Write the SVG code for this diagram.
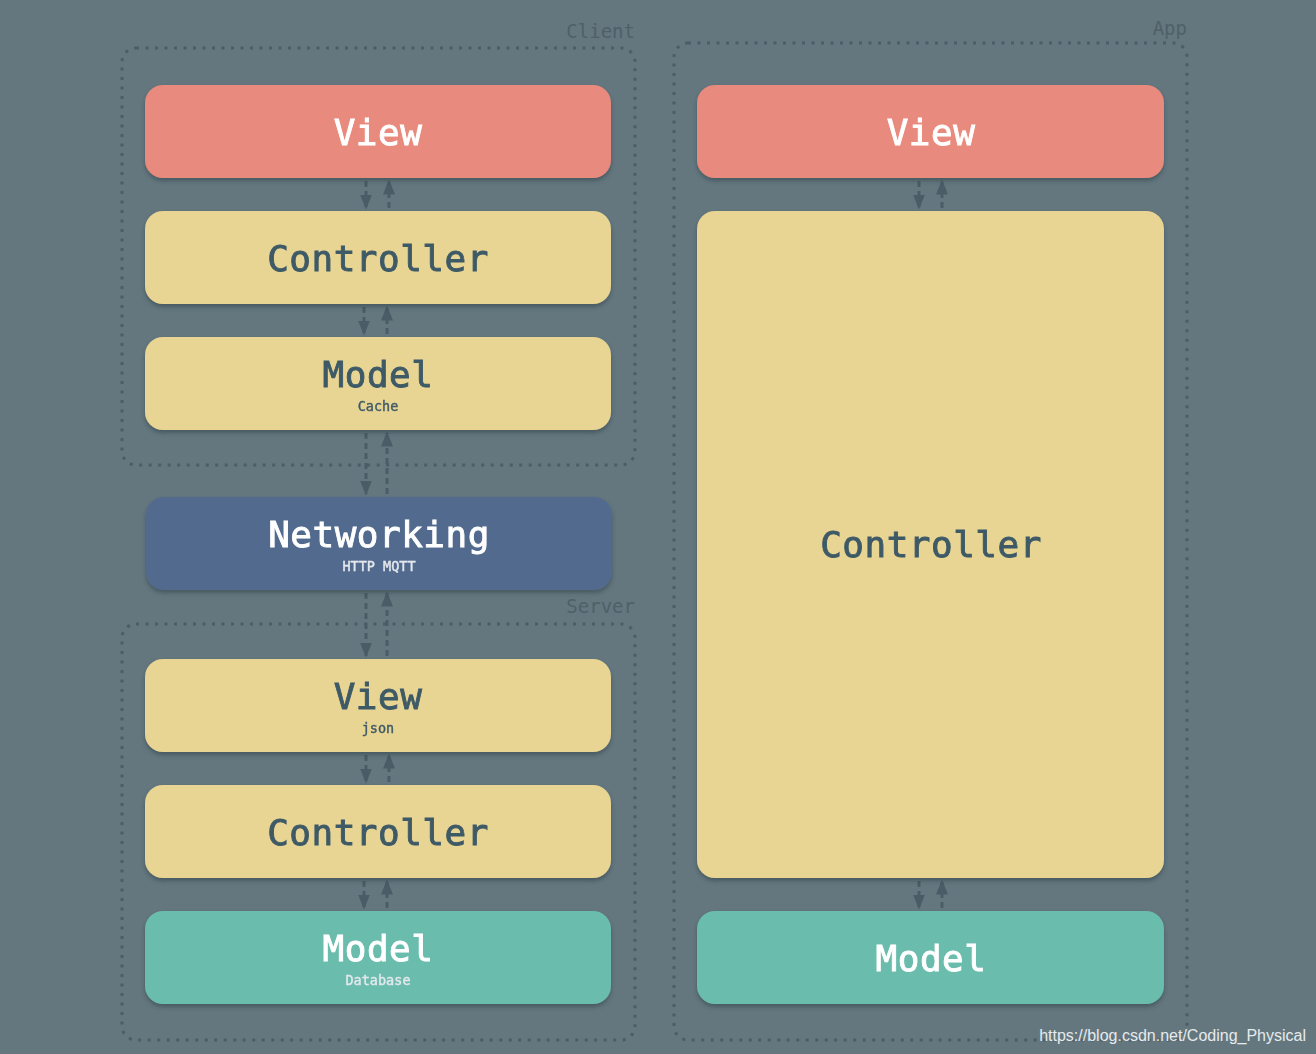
<svg xmlns="http://www.w3.org/2000/svg" width="1316" height="1054" viewBox="0 0 1316 1054">
<defs>
<style>
.grp{fill:none;stroke:#4b5d66;stroke-width:3;stroke-dasharray:3 6.5;}
.glabel{font-family:"DejaVu Sans Mono",monospace;font-size:19px;fill:#4f6068;text-anchor:end;}
.node{filter:url(#sh);}
.red{fill:#e88a7d;}
.yel{fill:#e9d593;}
.blu{fill:#536b8f;}
.grn{fill:#6bbdad;}
.t{font-family:"DejaVu Sans Mono",monospace;font-size:36px;text-anchor:middle;letter-spacing:0.5px;stroke-width:0.9;}
.s{font-family:"DejaVu Sans Mono",monospace;font-size:13.5px;text-anchor:middle;stroke-width:0.4;}
.dk{fill:#3e5a66;stroke:#3e5a66;}
.wh{fill:#ffffff;stroke:#ffffff;}
.lt{fill:#e4e8ee;stroke:#e4e8ee;}
.ln{stroke:#4a5c66;stroke-width:3;stroke-dasharray:6 4;fill:none;}
</style>
<filter id="sh" x="-5%" y="-10%" width="110%" height="130%">
<feDropShadow dx="0" dy="3" stdDeviation="2" flood-color="#2c3a40" flood-opacity="0.5"/>
</filter>
<marker id="ah" viewBox="0 0 10 10" refX="9" refY="5" markerWidth="5" markerHeight="5" markerUnits="strokeWidth" orient="auto">
<path d="M0,1 L10,5 L0,9 z" fill="#4a5c66"/>
</marker>
</defs>
<rect width="1316" height="1054" fill="#64777f"/>

<g id="groups">
<rect class="grp" x="122" y="48" width="513" height="417" rx="14"/>
<text class="glabel" x="635" y="38">Client</text>
<rect class="grp" x="122" y="624" width="513" height="416" rx="14"/>
<text class="glabel" x="635" y="613">Server</text>
<rect class="grp" x="674" y="43" width="513" height="997" rx="14"/>
<text class="glabel" x="1187" y="35">App</text>
</g>

<g id="connectors">
<line class="ln" x1="366" y1="181" x2="366" y2="208" marker-end="url(#ah)"/>
<line class="ln" x1="389" y1="208" x2="389" y2="181" marker-end="url(#ah)"/>
<line class="ln" x1="364" y1="307" x2="364" y2="334" marker-end="url(#ah)"/>
<line class="ln" x1="387" y1="334" x2="387" y2="307" marker-end="url(#ah)"/>
<line class="ln" x1="366" y1="433" x2="366" y2="494" marker-end="url(#ah)"/>
<line class="ln" x1="387" y1="494" x2="387" y2="433" marker-end="url(#ah)"/>
<line class="ln" x1="366" y1="593" x2="366" y2="656" marker-end="url(#ah)"/>
<line class="ln" x1="387" y1="656" x2="387" y2="593" marker-end="url(#ah)"/>
<line class="ln" x1="366" y1="755" x2="366" y2="782" marker-end="url(#ah)"/>
<line class="ln" x1="389" y1="782" x2="389" y2="755" marker-end="url(#ah)"/>
<line class="ln" x1="364" y1="881" x2="364" y2="908" marker-end="url(#ah)"/>
<line class="ln" x1="387" y1="908" x2="387" y2="881" marker-end="url(#ah)"/>
<line class="ln" x1="919" y1="181" x2="919" y2="208" marker-end="url(#ah)"/>
<line class="ln" x1="942" y1="208" x2="942" y2="181" marker-end="url(#ah)"/>
<line class="ln" x1="919" y1="881" x2="919" y2="908" marker-end="url(#ah)"/>
<line class="ln" x1="942" y1="908" x2="942" y2="881" marker-end="url(#ah)"/>
</g>

<g id="client-view" class="node">
<rect class="red" x="145" y="85" width="466" height="93" rx="18"/>
<text class="t wh" x="378" y="145">View</text>
</g>
<g id="client-controller" class="node">
<rect class="yel" x="145" y="211" width="466" height="93" rx="18"/>
<text class="t dk" x="378" y="271">Controller</text>
</g>
<g id="client-model" class="node">
<rect class="yel" x="145" y="337" width="466" height="93" rx="18"/>
<text class="t dk" x="378" y="387">Model</text>
<text class="s dk" x="378" y="411">Cache</text>
</g>
<g id="networking" class="node">
<rect class="blu" x="146" y="497" width="466" height="93" rx="18"/>
<text class="t wh" x="379" y="547">Networking</text>
<text class="s lt" x="379" y="571">HTTP MQTT</text>
</g>
<g id="server-view" class="node">
<rect class="yel" x="145" y="659" width="466" height="93" rx="18"/>
<text class="t dk" x="378" y="709">View</text>
<text class="s dk" x="378" y="733">json</text>
</g>
<g id="server-controller" class="node">
<rect class="yel" x="145" y="785" width="466" height="93" rx="18"/>
<text class="t dk" x="378" y="845">Controller</text>
</g>
<g id="server-model" class="node">
<rect class="grn" x="145" y="911" width="466" height="93" rx="18"/>
<text class="t wh" x="378" y="961">Model</text>
<text class="s lt" x="378" y="985">Database</text>
</g>
<g id="app-view" class="node">
<rect class="red" x="697" y="85" width="467" height="93" rx="18"/>
<text class="t wh" x="931" y="145">View</text>
</g>
<g id="app-controller" class="node">
<rect class="yel" x="697" y="211" width="467" height="667" rx="18"/>
<text class="t dk" x="931" y="557">Controller</text>
</g>
<g id="app-model" class="node">
<rect class="grn" x="697" y="911" width="467" height="93" rx="18"/>
<text class="t wh" x="931" y="971">Model</text>
</g>

<text x="1306" y="1041" font-family="Liberation Sans, Arial, sans-serif" font-size="16" fill="#e6eaec" text-anchor="end">https://blog.csdn.net/Coding_Physical</text>
</svg>
